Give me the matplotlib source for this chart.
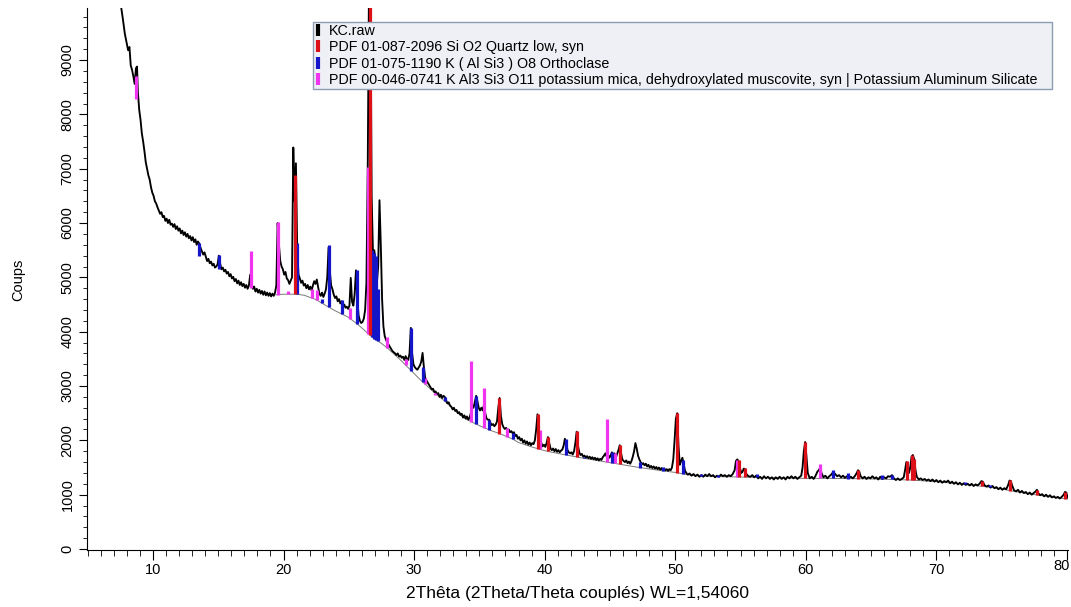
import numpy as np
import matplotlib
matplotlib.use("Agg")
import matplotlib.pyplot as plt
from matplotlib.lines import Line2D
from matplotlib.ticker import MultipleLocator

plt.rcParams['font.family'] = ['Liberation Sans', 'DejaVu Sans']

raw = [
    (7.40, 10300), (7.55, 10000), (7.70, 9750), (7.85, 9480), (8.00, 9300), (8.10, 9180), (8.20, 9240),
    (8.30, 8900), (8.40, 8820), (8.50, 8700), (8.60, 8560), (8.70, 8850), (8.78, 8880), (8.85, 8400),
    (8.95, 8080), (9.05, 7900), (9.15, 7650), (9.25, 7500), (9.35, 7320), (9.45, 7120), (9.55, 7000),
    (9.65, 6880), (9.75, 6800), (9.85, 6660), (9.95, 6560), (10.05, 6500), (10.15, 6400), (10.25, 6360),
    (10.35, 6290), (10.45, 6230), (10.55, 6170), (10.65, 6200), (10.75, 6110), (10.85, 6130), (10.95, 6040),
    (11.05, 6080), (11.15, 6000), (11.25, 6060), (11.35, 5970), (11.45, 5990), (11.55, 5930), (11.65, 5980),
    (11.75, 5890), (11.85, 5940), (11.95, 5860), (12.05, 5900), (12.15, 5810), (12.25, 5860), (12.35, 5780),
    (12.45, 5830), (12.55, 5750), (12.65, 5800), (12.75, 5720), (12.85, 5760), (12.95, 5680), (13.05, 5740),
    (13.15, 5650), (13.25, 5700), (13.35, 5600), (13.45, 5660), (13.55, 5620), (13.65, 5540), (13.75, 5480),
    (13.85, 5420), (13.95, 5460), (14.05, 5380), (14.15, 5300), (14.25, 5340), (14.35, 5260), (14.45, 5290),
    (14.55, 5220), (14.65, 5250), (14.75, 5180), (14.85, 5200), (14.95, 5240), (15.05, 5400), (15.15, 5250),
    (15.25, 5150), (15.35, 5180), (15.45, 5110), (15.55, 5140), (15.65, 5070), (15.75, 5100), (15.85, 5020),
    (15.95, 5060), (16.05, 4980), (16.15, 5010), (16.25, 4930), (16.35, 4970), (16.45, 4890), (16.55, 4940),
    (16.65, 4860), (16.75, 4910), (16.85, 4840), (16.95, 4880), (17.05, 4810), (17.15, 4860), (17.25, 4790),
    (17.35, 4850), (17.45, 5050), (17.55, 4900), (17.65, 4790), (17.75, 4830), (17.85, 4740), (17.95, 4790),
    (18.05, 4720), (18.15, 4770), (18.25, 4700), (18.35, 4750), (18.45, 4680), (18.55, 4740), (18.65, 4670),
    (18.75, 4720), (18.85, 4660), (18.95, 4710), (19.05, 4650), (19.15, 4700), (19.25, 4660), (19.35, 4720),
    (19.45, 4850), (19.55, 6000), (19.65, 5600), (19.75, 5300), (19.85, 5200), (19.95, 5150), (20.05, 5050),
    (20.15, 5100), (20.25, 4980), (20.35, 4950), (20.45, 4880), (20.55, 4940), (20.65, 5000), (20.75, 7390),
    (20.85, 6400), (20.95, 7100), (21.05, 5500), (21.15, 5050), (21.25, 4980), (21.35, 4900), (21.45, 4940),
    (21.55, 4850), (21.65, 4880), (21.75, 4800), (21.85, 4860), (21.95, 4780), (22.05, 4830), (22.15, 4760),
    (22.25, 4850), (22.35, 4930), (22.45, 4880), (22.55, 4960), (22.65, 4820), (22.75, 4700), (22.85, 4660),
    (22.95, 4720), (23.05, 4640), (23.15, 4700), (23.25, 4780), (23.35, 5000), (23.45, 5550), (23.55, 5100),
    (23.65, 4850), (23.75, 4780), (23.85, 4680), (23.95, 4620), (24.05, 4650), (24.15, 4560), (24.25, 4600),
    (24.35, 4520), (24.45, 4560), (24.55, 4480), (24.65, 4500), (24.75, 4440), (24.85, 4460), (24.95, 4420),
    (25.05, 4480), (25.15, 4990), (25.25, 4550), (25.35, 4480), (25.45, 4700), (25.55, 5130), (25.65, 4600),
    (25.75, 4300), (25.85, 4200), (25.95, 4160), (26.05, 4180), (26.15, 4240), (26.25, 4400), (26.35, 4900),
    (26.45, 7000), (26.55, 10500), (26.65, 10600), (26.75, 6500), (26.85, 5450), (26.95, 5500), (27.05, 5300),
    (27.15, 4900), (27.25, 5200), (27.35, 6420), (27.45, 5600), (27.55, 4600), (27.65, 4100), (27.75, 3920),
    (27.85, 3850), (27.95, 3800), (28.05, 3760), (28.15, 3720), (28.25, 3680), (28.35, 3640), (28.45, 3620),
    (28.55, 3600), (28.65, 3570), (28.75, 3600), (28.85, 3540), (28.95, 3560), (29.05, 3520), (29.15, 3540),
    (29.25, 3480), (29.35, 3550), (29.45, 3500), (29.55, 3480), (29.65, 3600), (29.75, 4070), (29.85, 3600),
    (29.95, 3400), (30.05, 3350), (30.15, 3320), (30.25, 3300), (30.35, 3340), (30.45, 3380), (30.55, 3450),
    (30.65, 3610), (30.75, 3350), (30.85, 3150), (30.95, 3100), (31.05, 3060), (31.15, 3020), (31.25, 2980),
    (31.35, 2940), (31.45, 2950), (31.55, 2890), (31.65, 2900), (31.75, 2850), (31.85, 2870), (31.95, 2800),
    (32.05, 2840), (32.15, 2780), (32.25, 2820), (32.35, 2800), (32.45, 2740), (32.55, 2680), (32.65, 2700),
    (32.75, 2640), (32.85, 2620), (32.95, 2570), (33.05, 2600), (33.15, 2540), (33.25, 2560), (33.35, 2500),
    (33.45, 2520), (33.55, 2470), (33.65, 2490), (33.75, 2420), (33.85, 2460), (33.95, 2400), (34.05, 2440),
    (34.15, 2380), (34.25, 2420), (34.35, 2500), (34.45, 2650), (34.55, 2600), (34.65, 2700), (34.75, 2820),
    (34.85, 2720), (34.95, 2600), (35.05, 2550), (35.15, 2600), (35.25, 2550), (35.35, 2650), (35.45, 2500),
    (35.55, 2400), (35.65, 2380), (35.75, 2380), (35.85, 2320), (35.95, 2280), (36.05, 2300), (36.15, 2260),
    (36.25, 2290), (36.35, 2350), (36.45, 2600), (36.55, 2780), (36.65, 2450), (36.75, 2300), (36.85, 2240),
    (36.95, 2210), (37.05, 2230), (37.15, 2180), (37.25, 2200), (37.35, 2150), (37.45, 2170), (37.55, 2130),
    (37.65, 2150), (37.75, 2080), (37.85, 2100), (37.95, 2030), (38.05, 2060), (38.15, 2000), (38.25, 2030),
    (38.35, 1960), (38.45, 2000), (38.55, 1940), (38.65, 1980), (38.75, 1920), (38.85, 1960), (38.95, 1910),
    (39.05, 1950), (39.15, 1930), (39.25, 2000), (39.35, 2200), (39.45, 2480), (39.55, 2100), (39.65, 2000),
    (39.75, 1950), (39.85, 1890), (39.95, 1920), (40.05, 1880), (40.15, 1950), (40.25, 2060), (40.35, 1950),
    (40.45, 1850), (40.55, 1820), (40.65, 1850), (40.75, 1800), (40.85, 1840), (40.95, 1790), (41.05, 1820),
    (41.15, 1780), (41.25, 1810), (41.35, 1830), (41.45, 1900), (41.55, 2030), (41.65, 1950), (41.75, 1820),
    (41.85, 1780), (41.95, 1760), (42.05, 1780), (42.15, 1740), (42.25, 1800), (42.35, 1950), (42.45, 2160),
    (42.55, 1900), (42.65, 1780), (42.75, 1730), (42.85, 1750), (42.95, 1700), (43.05, 1720), (43.15, 1680),
    (43.25, 1710), (43.35, 1670), (43.45, 1700), (43.55, 1660), (43.65, 1690), (43.75, 1650), (43.85, 1680),
    (43.95, 1640), (44.05, 1670), (44.15, 1630), (44.25, 1660), (44.35, 1640), (44.45, 1690), (44.55, 1720),
    (44.65, 1760), (44.75, 1700), (44.85, 1740), (44.95, 1680), (45.05, 1720), (45.15, 1780), (45.25, 1700),
    (45.35, 1760), (45.45, 1680), (45.55, 1750), (45.65, 1820), (45.75, 1910), (45.85, 1760), (45.95, 1650),
    (46.05, 1620), (46.15, 1600), (46.25, 1630), (46.35, 1580), (46.45, 1610), (46.55, 1570), (46.65, 1620),
    (46.75, 1700), (46.85, 1800), (46.95, 1950), (47.05, 1850), (47.15, 1720), (47.25, 1650), (47.35, 1600),
    (47.45, 1560), (47.55, 1580), (47.65, 1540), (47.75, 1570), (47.85, 1520), (47.95, 1550), (48.05, 1500),
    (48.15, 1530), (48.25, 1490), (48.35, 1520), (48.45, 1480), (48.55, 1510), (48.65, 1470), (48.75, 1500),
    (48.85, 1460), (48.95, 1490), (49.05, 1450), (49.15, 1480), (49.25, 1450), (49.35, 1470), (49.45, 1440),
    (49.55, 1470), (49.65, 1450), (49.75, 1500), (49.85, 1650), (49.95, 2000), (50.05, 2400), (50.15, 2500),
    (50.25, 1900), (50.35, 1550), (50.45, 1620), (50.55, 1680), (50.65, 1560), (50.75, 1440), (50.85, 1400),
    (50.95, 1370), (51.10, 1390), (51.25, 1350), (51.40, 1380), (51.55, 1340), (51.70, 1370), (51.85, 1330),
    (52.00, 1360), (52.15, 1330), (52.30, 1370), (52.45, 1340), (52.60, 1380), (52.75, 1340), (52.90, 1360),
    (53.05, 1320), (53.20, 1350), (53.35, 1330), (53.50, 1370), (53.65, 1340), (53.80, 1360), (53.95, 1330),
    (54.10, 1360), (54.25, 1340), (54.40, 1380), (54.55, 1450), (54.65, 1620), (54.75, 1650), (54.85, 1620),
    (54.95, 1500), (55.05, 1400), (55.15, 1420), (55.25, 1480), (55.35, 1470), (55.45, 1380), (55.60, 1340),
    (55.75, 1330), (55.90, 1360), (56.05, 1320), (56.20, 1350), (56.35, 1300), (56.50, 1330), (56.65, 1290),
    (56.80, 1340), (56.95, 1300), (57.10, 1330), (57.25, 1290), (57.40, 1320), (57.55, 1280), (57.70, 1320),
    (57.85, 1290), (58.00, 1330), (58.15, 1290), (58.30, 1320), (58.45, 1280), (58.60, 1330), (58.75, 1300),
    (58.90, 1340), (59.05, 1300), (59.20, 1330), (59.35, 1290), (59.50, 1320), (59.65, 1350), (59.75, 1500),
    (59.85, 1800), (59.95, 1970), (60.05, 1700), (60.15, 1400), (60.30, 1300), (60.45, 1330), (60.60, 1290),
    (60.75, 1350), (60.90, 1430), (61.00, 1450), (61.10, 1500), (61.20, 1400), (61.35, 1320), (61.50, 1350),
    (61.65, 1300), (61.80, 1340), (61.95, 1370), (62.10, 1420), (62.25, 1380), (62.40, 1340), (62.55, 1360),
    (62.70, 1320), (62.85, 1350), (63.00, 1310), (63.15, 1340), (63.30, 1310), (63.45, 1330), (63.60, 1300),
    (63.75, 1340), (63.90, 1400), (64.00, 1450), (64.10, 1420), (64.20, 1340), (64.35, 1300), (64.50, 1330),
    (64.65, 1290), (64.80, 1320), (64.95, 1300), (65.10, 1340), (65.25, 1300), (65.40, 1320), (65.55, 1280),
    (65.70, 1330), (65.85, 1290), (66.00, 1320), (66.15, 1300), (66.30, 1340), (66.45, 1330), (66.60, 1360),
    (66.75, 1300), (66.90, 1270), (67.05, 1300), (67.20, 1270), (67.35, 1290), (67.50, 1320), (67.60, 1450),
    (67.70, 1600), (67.80, 1580), (67.90, 1400), (68.00, 1500), (68.10, 1700), (68.20, 1730), (68.30, 1650),
    (68.40, 1450), (68.50, 1330), (68.65, 1280), (68.80, 1300), (68.95, 1270), (69.10, 1290), (69.25, 1260),
    (69.40, 1280), (69.55, 1250), (69.70, 1280), (69.85, 1240), (70.00, 1270), (70.15, 1230), (70.30, 1260),
    (70.45, 1220), (70.60, 1250), (70.75, 1230), (70.90, 1260), (71.05, 1210), (71.20, 1240), (71.35, 1200),
    (71.50, 1230), (71.65, 1190), (71.80, 1220), (71.95, 1180), (72.10, 1210), (72.25, 1180), (72.40, 1200),
    (72.55, 1170), (72.70, 1200), (72.85, 1160), (73.00, 1190), (73.15, 1170), (73.30, 1200), (73.45, 1250),
    (73.55, 1240), (73.70, 1170), (73.85, 1150), (74.00, 1170), (74.15, 1130), (74.30, 1160), (74.45, 1120),
    (74.60, 1140), (74.75, 1100), (74.90, 1130), (75.05, 1090), (75.20, 1120), (75.35, 1100), (75.50, 1180),
    (75.60, 1260), (75.70, 1250), (75.80, 1170), (75.95, 1080), (76.10, 1060), (76.25, 1090), (76.40, 1040),
    (76.55, 1070), (76.70, 1030), (76.85, 1050), (77.00, 1010), (77.15, 1040), (77.30, 1000), (77.45, 1030),
    (77.60, 1060), (77.70, 1090), (77.80, 1030), (77.95, 990), (78.10, 1010), (78.25, 970), (78.40, 1000),
    (78.55, 960), (78.70, 990), (78.85, 950), (79.00, 970), (79.15, 940), (79.30, 960), (79.45, 930),
    (79.60, 960), (79.75, 1000), (79.85, 1050), (79.95, 1040), (80.05, 950), (80.15, 930),
]

# fitted background (grey curve shown from ~19.4 deg)
bg_tt = [8.0, 8.75, 9.5, 10.5, 12.0, 13.55, 15.07, 17.5, 19.4, 20.0, 21.0, 21.6, 22.5, 23.4, 24.0, 24.9,
         25.5, 26.0, 26.5, 27.0, 27.5, 28.0, 28.5, 29.0, 29.5, 30.0, 30.5, 31.0, 31.5, 32.0, 32.5, 33.0,
         33.5, 34.0, 34.5, 35.0, 35.5, 36.0, 36.5, 37.0, 37.5, 38.0, 39.0, 40.0, 41.0, 42.0, 43.0, 44.0,
         45.0, 46.0, 47.0, 48.0, 49.0, 50.0, 51.0, 52.0, 53.0, 54.0, 55.0, 56.0, 58.0, 60.0, 62.0, 64.0,
         66.0, 68.0, 70.0, 72.0, 74.0, 75.0, 76.0, 77.0, 78.0, 79.0, 80.15]
bg_counts = [9100, 8250, 7000, 6200, 5780, 5400, 5150, 4800, 4680, 4690, 4690, 4670, 4590, 4460, 4380, 4275,
             4170, 4070, 3960, 3860, 3785, 3690, 3580, 3470, 3350, 3230, 3110, 3000, 2890, 2790, 2690, 2580,
             2470, 2390, 2330, 2270, 2220, 2170, 2130, 2080, 2030, 1960, 1880, 1810, 1760, 1715, 1670, 1630,
             1590, 1550, 1510, 1475, 1440, 1410, 1365, 1345, 1335, 1330, 1325, 1320, 1310, 1300, 1300, 1295,
             1285, 1270, 1240, 1195, 1140, 1105, 1060, 1020, 985, 950, 920]
bg_start = 19.4

# reference patterns: peak position and top of the marked peak
quartz_pos = [20.86, 26.64, 36.54, 39.46, 40.29, 42.45, 45.79, 50.14, 54.87, 55.33, 59.96, 64.03,
              67.74, 68.14, 68.30, 73.47, 75.66, 77.67, 79.88]
quartz_top = [6885, 10500, 2785, 2485, 2065, 2170, 1915, 2500, 1630, 1490, 1975, 1455,
              1625, 1730, 1650, 1257, 1270, 1090, 1055]

ortho_pos = [13.55, 15.07, 21.00, 22.95, 23.45, 24.45, 25.60, 26.78, 26.95, 27.08, 27.25, 29.78,
             30.69, 32.35, 34.77, 35.75, 37.55, 41.60, 43.00, 45.15, 47.30, 49.10, 50.60, 52.00,
             53.30, 56.30, 62.07, 63.20, 65.80, 66.60, 72.20, 74.10]
ortho_top = [5625, 5410, 5630, 4600, 5595, 4580, 5135, 5500, 5450, 5400, 4780, 4070,
             3350, 2800, 2820, 2380, 2130, 2030, 1700, 1780, 1610, 1510, 1640, 1380,
             1360, 1390, 1450, 1400, 1360, 1360, 1230, 1170]

musc_pos = [8.72, 17.48, 19.55, 20.35, 22.15, 22.60, 25.10, 26.50, 27.90, 29.37, 30.85, 31.60,
            34.38, 35.38, 37.10, 39.62, 44.75, 45.35, 54.72, 61.10]
musc_top = [8700, 5490, 6025, 4750, 4790, 4760, 4435, 7040, 3900, 3500, 3150, 2830,
            3460, 2970, 2230, 2190, 2385, 1770, 1640, 1560]

x_ticks = [10, 20, 30, 40, 50, 60, 70, 80]
x_tick_labels = ["10", "20", "30", "40", "50", "60", "70", "80"]

legend_labels = [
    "KC.raw",
    "PDF 01-087-2096 Si O2 Quartz low, syn",
    "PDF 01-075-1190 K ( Al Si3 ) O8 Orthoclase",
    "PDF 00-046-0741 K Al3 Si3 O11 potassium mica, dehydroxylated muscovite, syn | Potassium Aluminum Silicate",
]
c_raw, c_quartz, c_ortho, c_musc = "black", "#dc1018", "#1414c8", "#f035f0"

W, H = 1071, 607
fig = plt.figure(figsize=(W / 100, H / 100), dpi=100)
ax = fig.add_axes([87 / W, 1 - 550 / H, (1068 - 87) / W, (550 - 8) / H])

tt = np.array([p[0] for p in raw])
cts = np.array([p[1] for p in raw])
ax.plot(tt, cts, color=c_raw, lw=1.35, zorder=2)

bg_tt_a = np.array(bg_tt)
bg_c_a = np.array(bg_counts)
show = bg_tt_a >= bg_start
ax.plot(bg_tt_a[show], bg_c_a[show], color="#7a7a7a", lw=0.7, zorder=1)

for pos, top, col in [(musc_pos, musc_top, c_musc), (ortho_pos, ortho_top, c_ortho),
                      (quartz_pos, quartz_top, c_quartz)]:
    bottom = np.interp(pos, bg_tt_a, bg_c_a)
    ax.vlines(pos, bottom, top, colors=col, lw=2.3, zorder=3)

ax.set_xlim(4.95, 80.08)
ax.set_ylim(-18, 9958)
for s in ["top", "right"]:
    ax.spines[s].set_visible(False)
ax.spines["left"].set_linewidth(0.8)
ax.spines["bottom"].set_linewidth(0.8)

# the last label sits against the picture's right edge, so it is placed by hand
ax.set_xticks(x_ticks)
ax.set_xticklabels(x_tick_labels[:-1] + [""], fontsize=10.5)
ax.annotate(x_tick_labels[-1], xy=(x_ticks[-1], 0), xycoords=("data", "axes fraction"),
            xytext=(-5, -9), textcoords="offset pixels", ha="center", va="top", fontsize=10.5,
            annotation_clip=False)
ax.xaxis.set_minor_locator(MultipleLocator(1))
ax.yaxis.set_major_locator(MultipleLocator(1000))
ax.yaxis.set_minor_locator(MultipleLocator(200))
ax.tick_params(axis="x", which="major", length=7, width=0.8, pad=2)
ax.tick_params(axis="x", which="minor", length=4, width=0.6)
ax.tick_params(axis="y", which="major", length=6, width=0.8, labelsize=10.5, pad=3, labelrotation=90)
ax.tick_params(axis="y", which="minor", length=3, width=0.6)
for lab in ax.get_yticklabels():
    lab.set_va("center")

ax.set_xlabel("2Thêta (2Theta/Theta couplés) WL=1,54060", fontsize=12.5, labelpad=7)
fig.text(18 / W, 1 - 280 / H, "Coups", rotation=90, fontsize=10.5, ha="center", va="center")

handles = [Line2D([], [], ls="none", marker="|", markersize=9, mew=3, color=c)
           for c in [c_raw, c_quartz, c_ortho, c_musc]]
leg = ax.legend(handles, legend_labels, loc="upper left",
                bbox_to_anchor=(313 / W, 1 - 22 / H - 0.01, (1052 - 313) / W, 0.01),
                bbox_transform=fig.transFigure, mode="expand", fontsize=10.3,
                handlelength=0.4, handletextpad=0.55, labelspacing=0.16, borderpad=0.15,
                borderaxespad=0, fancybox=False, framealpha=1)
leg.get_frame().set_facecolor("#eef0f5")
leg.get_frame().set_edgecolor("#8c9db3")
leg.get_frame().set_linewidth(1.0)
leg.set_zorder(10)

fig.savefig("out.png", dpi=100)
